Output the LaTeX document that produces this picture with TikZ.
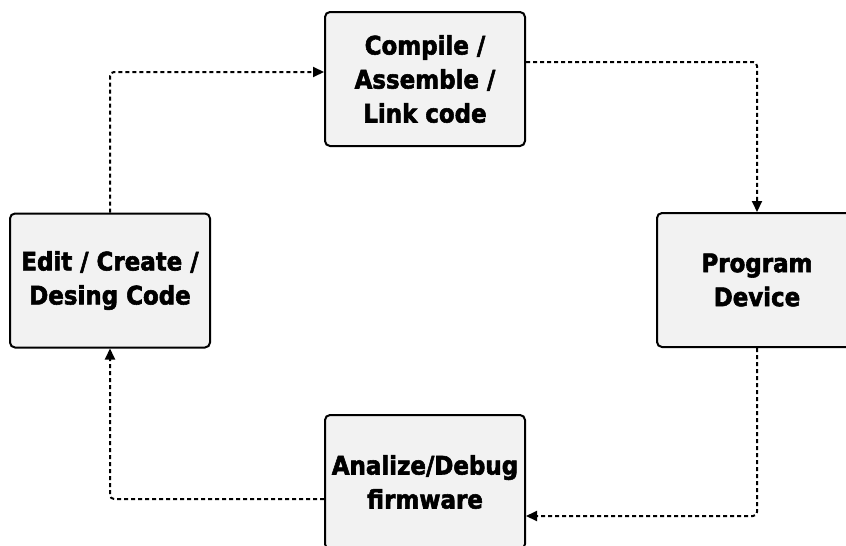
\documentclass[tikz,border=0pt]{standalone}
\usepackage{fontspec}
\setmainfont{DejaVu Sans Condensed}[BoldFont={DejaVu Sans Condensed Bold},BoldFeatures={FakeBold=2.2}]
\usetikzlibrary{arrows.meta}
\begin{document}
\begin{tikzpicture}[x=1pt,y=-1pt,
  stage/.style={draw=black, line width=2pt, fill=black!5, rounded corners=5pt,
    minimum width=200pt, minimum height=134pt, align=center, inner sep=0pt,
    font=\bfseries\fontsize{25.5}{34}\selectfont},
  flow/.style={line width=2pt, dash pattern=on 4pt off 3pt, rounded corners=4pt,
    -{Triangle[length=11pt,width=10pt]}}]
\useasboundingbox (0,0) rectangle (846,546);
\node[stage] (compile) at (425,79) {Compile /\\Assemble /\\Link code};
\node[stage] (program) at (757,280) {Program\\Device};
\node[stage] (debug) at (425,482) {Analize/Debug\\firmware};
\node[stage] (edit) at (110,280.5) {Edit / Create /\\Desing Code};
\coordinate (c1) at (110,72);
\coordinate (c2) at (757,62);
\coordinate (c3) at (757,516);
\coordinate (c4) at (110,499);
\draw[flow] (edit.north) -- (c1) -- (compile.west |- c1);
\draw[flow] (compile.east |- c2) -- (c2) -- (program.north);
\draw[flow] (program.south) -- (c3) -- (debug.east |- c3);
\draw[flow] (debug.west |- c4) -- (c4) -- (edit.south);
\end{tikzpicture}
\end{document}
